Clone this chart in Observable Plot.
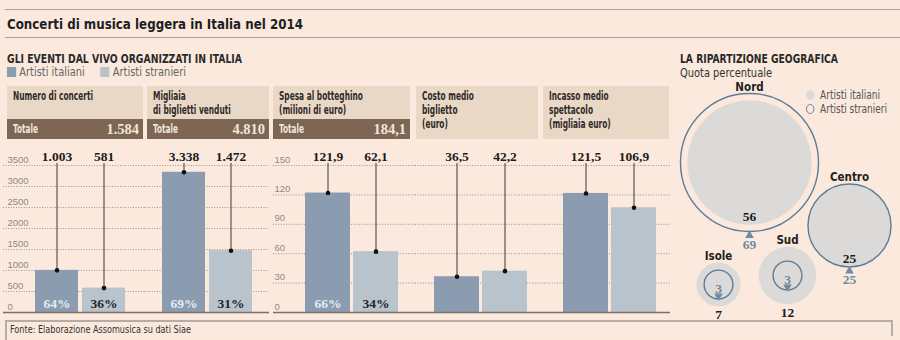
<!DOCTYPE html>
<html><head><meta charset="utf-8">
<script src="https://cdn.jsdelivr.net/npm/d3@7"></script>
<script src="https://cdn.jsdelivr.net/npm/@observablehq/plot@0.6"></script>
<style>
html,body{margin:0;padding:0;background:#fbe9dd;}
#root{position:relative;width:900px;height:340px;overflow:hidden;background:#fbe9dd;
  font-family:"Liberation Sans Narrow","DejaVu Sans Condensed","Roboto Condensed","Liberation Sans",sans-serif;color:#222;}
#root > *{position:absolute;}
.hbox{background:#ead8c7;box-sizing:border-box;}
.htxt{position:absolute;left:6px;top:3px;font-weight:bold;font-size:11.5px;line-height:14px;color:#2e2a27;white-space:nowrap;transform-origin:0 0;}
.tot{background:#7d6754;color:#f1e6db;box-sizing:border-box;height:20px;}
.tot .l{position:absolute;left:6px;top:3px;font-weight:bold;font-size:11.5px;line-height:14px;white-space:nowrap;transform-origin:0 0;}
.tot .r{position:absolute;right:4px;top:1px;font-family:"Liberation Serif","DejaVu Serif",serif;font-weight:bold;font-size:14.5px;line-height:18px;}
svg{overflow:visible;}
</style></head>
<body><div id="root"></div>
<script>
// ---------------- DATA ----------------
const groups = ["Artisti italiani", "Artisti stranieri"];
const panelTitles = [
  ["Numero di concerti"],
  ["Migliaia", "di biglietti venduti"],
  ["Spesa al botteghino", "(milioni di euro)"],
  ["Costo medio", "biglietto", "(euro)"],
  ["Incasso medio", "spettacolo", "(migliaia euro)"]
];
const italiani = [1003, 3338, 121.9, 36.5, 121.5];
const stranieri = [581, 1472, 62.1, 42.2, 106.9];
const quotaItaliani = [64, 69, 66, null, null];
const quotaStranieri = [36, 31, 34, null, null];
const totali = [1584, 4810, 184.1, null, null];
const ticksLeft = [0, 500, 1000, 1500, 2000, 2500, 3000, 3500];
const ticksRight = [0, 30, 60, 90, 120, 150];
const regioni = ["Nord", "Centro", "Sud", "Isole"];
const geoItaliani = [56, 25, 12, 7];
const geoStranieri = [69, 25, 3, 3];

// ---------------- STYLE / LAYOUT ----------------
const C_IT = "#8c9cb0", C_ST = "#b9c3cc";
const BLUE = "#5d7d97", BLUE_TXT = "#6f8aa2", GREYC = "#dcdad8";
const SERIF = '"Liberation Serif","DejaVu Serif",serif';
const SANS = '"Liberation Sans Narrow","DejaVu Sans Condensed","Roboto Condensed","Liberation Sans",sans-serif';
const loc = d3.formatLocale({decimal: ",", thousands: ".", grouping: [3], currency: ["", "€"]});
const fmt = v => Number.isInteger(v) ? loc.format(",d")(v) : loc.format(",.1f")(v);

const root = document.getElementById("root");
function add(html, left, top, css = "") {
  const d = document.createElement("div");
  d.innerHTML = html;
  d.style.cssText = `left:${left}px;top:${top}px;${css}`;
  root.appendChild(d);
  return d;
}
// horizontally condense a text element so that it spans the given width
function fit(el, w) {
  el.style.whiteSpace = "nowrap";
  el.style.transformOrigin = "0 0";
  const cw = el.getBoundingClientRect().width;
  if (cw > 0) el.style.transform = `scaleX(${w / cw})`;
  return w / cw;
}

// header
add("", 5, 9, "width:895px;height:1px;background:#aaa39c");
fit(add("Concerti di musica leggera in Italia nel 2014", 7, 15, "font-size:14.5px;font-weight:bold;line-height:18px;color:#1e1e1e"), 296);
add("", 5, 37, "width:895px;height:1px;background:#aaa39c");
fit(add("GLI EVENTI DAL VIVO ORGANIZZATI IN ITALIA", 7, 52, "font-size:11.5px;font-weight:bold;line-height:14px;color:#2a2a2a"), 235);
fit(add(`<span style="display:inline-block;width:10px;height:10px;background:${C_IT};vertical-align:-1px"></span> ${groups[0]}
     &nbsp;&nbsp;&nbsp;&nbsp;<span style="display:inline-block;width:10px;height:10px;background:${C_ST};vertical-align:-1px"></span> ${groups[1]}`,
    7, 65, "font-size:12px;line-height:14px;color:#666"), 179);

// panel headers
const panelBox = [[7, 143], [147, 269], [273, 410], [416, 538], [543, 669]];
let hScale = null, tScale = null;
panelTitles.forEach((lines, i) => {
  const [x0, x1] = panelBox[i];
  const hasTot = totali[i] != null;
  const b = add(`<div class="htxt">${lines.join("<br>")}</div>`, x0, 86, `width:${x1 - x0}px;height:${hasTot ? 33 : 53}px`);
  b.className = "hbox";
  const inner = b.firstChild;
  if (hScale == null) hScale = fit(inner, 80);
  else inner.style.transform = `scaleX(${hScale})`;
  if (hasTot) {
    const t = add(`<span class="l">Totale</span><span class="r">${fmt(totali[i])}</span>`, x0, 119, `width:${x1 - x0}px`);
    t.className = "tot";
    const l = t.firstChild;
    if (tScale == null) tScale = fit(l, 25);
    else l.style.transform = `scaleX(${tScale})`;
  }
});

// bar panels
const barLayout = [
  {left: 3, width: 141, range: [31, 123], pad: 0.083, axis: true, dx: 4, ticks: ticksLeft},
  {left: 144, width: 125, range: [17, 109], pad: 0.083, axis: false, ticks: ticksLeft},
  {left: 273, width: 142, range: [31, 125], pad: 0.065, axis: true, dx: 1, ticks: ticksRight},
  {left: 415, width: 129, range: [18, 112], pad: 0.065, axis: false, ticks: ticksRight},
  {left: 544, width: 126, range: [18, 112], pad: 0.065, axis: false, ticks: ticksRight}
];
barLayout.forEach((L, i) => {
  const rows = groups.map((g, j) => ({
    group: g,
    value: j ? stranieri[i] : italiani[i],
    quota: j ? quotaStranieri[i] : quotaItaliani[i]
  }));
  const yMax = d3.max(L.ticks);
  const pct = rows.filter(d => d.quota != null);
  const textBase = {fontFamily: SERIF, fontWeight: "bold", fontSize: 13.5};
  const plot = Plot.plot({
    width: L.width, height: 178,
    marginTop: 25, marginBottom: 6, marginLeft: 0, marginRight: 0,
    style: {background: "transparent", overflow: "visible", fontFamily: '"Liberation Sans","DejaVu Sans",sans-serif'},
    x: {type: "band", domain: groups, range: L.range, paddingInner: L.pad, paddingOuter: 0, axis: null},
    y: {domain: [0, yMax], axis: null},
    color: {domain: groups, range: [C_IT, C_ST]},
    marks: [
      Plot.gridY(L.ticks, {stroke: "#8e8a86", strokeOpacity: 1, strokeWidth: 0.9, strokeDasharray: "1,1.6"}),
      L.axis ? Plot.axisY(L.ticks, {anchor: "left", tickSize: 0, tickPadding: 0, textAnchor: "start",
        tickFormat: d => String(d), dx: L.dx, dy: -6, fill: "#8d8985", fontSize: 9.5, label: null}) : null,
      Plot.barY(rows, {x: "group", y: "value", fill: "group"}),
      Plot.ruleY([0], {stroke: "#77716b", strokeWidth: 1.3}),
      Plot.ruleX(rows, {x: "group", y1: () => yMax, y2: "value", stroke: "#3b3835", strokeWidth: 1, insetTop: -2}),
      Plot.dot(rows, {x: "group", y: "value", r: 2.3, fill: "#111", stroke: "none"}),
      Plot.text(rows, {x: "group", y: () => yMax, text: d => fmt(d.value), lineAnchor: "bottom", dy: -5, fill: "#1b1b1b", ...textBase}),
      Plot.text(pct.filter(d => d.group === groups[0]), {x: "group", y: () => 0, text: d => d.quota + "%", lineAnchor: "bottom", dy: -5, fill: "#e6ecf2", ...textBase}),
      Plot.text(pct.filter(d => d.group === groups[1]), {x: "group", y: () => 0, text: d => d.quota + "%", lineAnchor: "bottom", dy: -5, fill: "#262626", ...textBase})
    ]
  });
  plot.style.position = "absolute";
  plot.style.left = L.left + "px";
  plot.style.top = "140px";
  root.appendChild(plot);
});

// footer
add("", 5, 320, "width:888px;height:1.5px;background:#b4ada6");
add("", 5, 320, "width:1.5px;height:20px;background:#b4ada6");
add("", 891, 320, "width:1.5px;height:16px;background:#b4ada6");
fit(add("Fonte: Elaborazione Assomusica su dati Siae", 10, 323, "font-size:11px;line-height:13px;color:#333"), 181);

// right panel
fit(add("LA RIPARTIZIONE GEOGRAFICA", 680, 52, "font-size:11.5px;font-weight:bold;line-height:14px;color:#2a2a2a"), 158);
fit(add("Quota percentuale", 680, 66, "font-size:12px;line-height:14px;color:#333"), 92);
fit(add(`<span style="display:inline-block;width:10px;height:10px;border-radius:50%;background:${GREYC};vertical-align:-1px"></span>&nbsp; ${groups[0]}`,
    806, 88, "font-size:12px;line-height:14px;color:#555"), 74);
fit(add(`<span style="display:inline-block;width:8px;height:8px;border-radius:50%;border:1.3px solid ${BLUE};vertical-align:-1px"></span>&nbsp; ${groups[1]}`,
    806, 102, "font-size:12px;line-height:14px;color:#555"), 81);

const geoCenter = [[749, 162], [848.5, 225], [786.5, 274.5], [717.5, 283.5]];
const rMaxVal = d3.max(geoStranieri.concat(geoItaliani));
const rScale = d3.scaleSqrt().domain([0, rMaxVal]).range([0, rMaxVal]);
regioni.forEach((name, i) => {
  const it = geoItaliani[i], st = geoStranieri[i];
  const rIt = rScale(it), rSt = rScale(st), rMax = Math.max(rIt, rSt);
  const numStyle = {fontFamily: SERIF, fontWeight: "bold", fontSize: 13.5, frameAnchor: "middle", lineAnchor: "bottom"};
  const marks = [
    Plot.dot([it], {r: d => d, fill: GREYC, stroke: "none", frameAnchor: "middle"}),
    Plot.dot([st], {r: d => d, fill: "none", stroke: BLUE, strokeWidth: 1.4, frameAnchor: "middle"}),
    Plot.text([name], {text: d => d, frameAnchor: "middle", lineAnchor: "bottom", dy: -(rMax + 3),
      fontFamily: SANS, fontWeight: "bold", fontSize: 11.5, fill: "#222"})
  ];
  if (st >= it) {
    marks.push(
      Plot.text([it], {text: d => String(d), dy: rIt - 4, fill: "#1b1b1b", ...numStyle}),
      Plot.dot([st], {symbol: "triangle", r: 3.2, fill: BLUE_TXT, stroke: "none", frameAnchor: "middle", dy: rSt + 4}),
      Plot.text([st], {text: d => String(d), dy: rSt + 17, fill: BLUE_TXT, ...numStyle})
    );
  } else {
    marks.push(
      Plot.text([st], {text: d => String(d), dy: rSt - 6, fill: BLUE_TXT, ...numStyle}),
      Plot.dot([st], {symbol: "triangle", r: 3.2, rotate: 180, fill: BLUE_TXT, stroke: "none", frameAnchor: "middle", dy: rSt - 3}),
      Plot.text([it], {text: d => String(d), dy: rIt + 12.5, fill: "#1b1b1b", ...numStyle})
    );
  }
  const p = Plot.plot({
    width: 180, height: 200, margin: 0,
    style: {background: "transparent", overflow: "visible"},
    r: {type: "sqrt", domain: [0, rMaxVal], range: [0, rMaxVal]},
    marks
  });
  p.style.position = "absolute";
  p.style.left = (geoCenter[i][0] - 90) + "px";
  p.style.top = (geoCenter[i][1] - 100) + "px";
  root.appendChild(p);
});
</script>
</body></html>
